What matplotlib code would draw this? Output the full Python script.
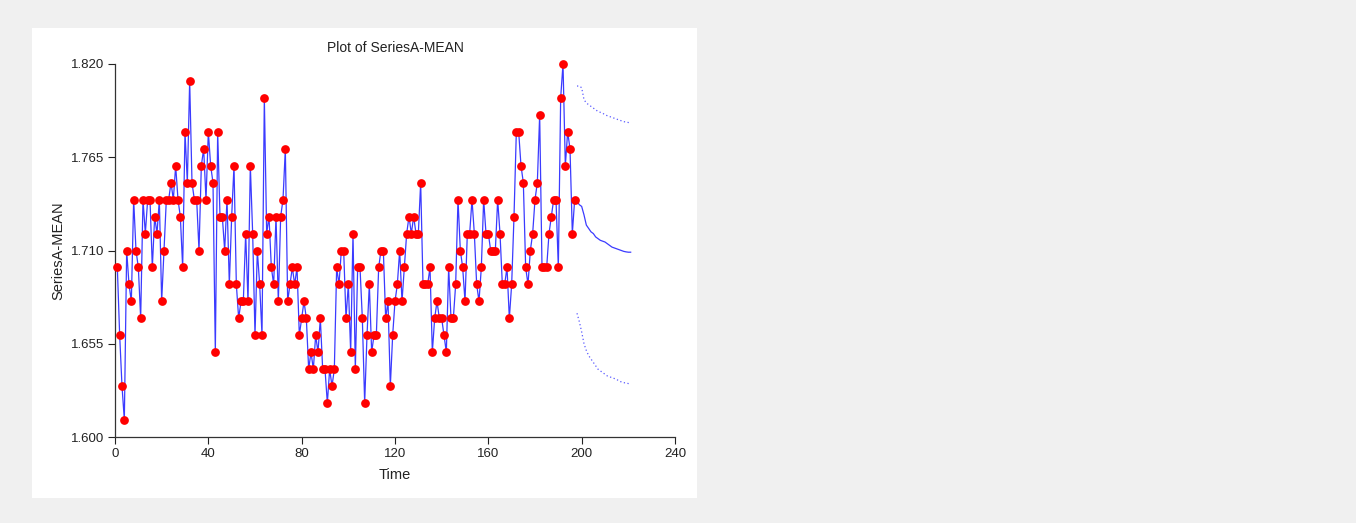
import matplotlib
matplotlib.use("Agg")
import matplotlib.pyplot as plt
from matplotlib.patches import Rectangle

plt.rcParams['font.family'] = ['Liberation Sans', 'DejaVu Sans']

# observed series, t = 1..197
series_a = [
    1.70, 1.66, 1.63, 1.61, 1.71, 1.69, 1.68, 1.74, 1.71, 1.70,
    1.67, 1.74, 1.72, 1.74, 1.74, 1.70, 1.73, 1.72, 1.74, 1.68,
    1.71, 1.74, 1.74, 1.75, 1.74, 1.76, 1.74, 1.73, 1.70, 1.78,
    1.75, 1.81, 1.75, 1.74, 1.74, 1.71, 1.76, 1.77, 1.74, 1.78,
    1.76, 1.75, 1.65, 1.78, 1.73, 1.73, 1.71, 1.74, 1.69, 1.73,
    1.76, 1.69, 1.67, 1.68, 1.68, 1.72, 1.68, 1.76, 1.72, 1.66,
    1.71, 1.69, 1.66, 1.80, 1.72, 1.73, 1.70, 1.69, 1.73, 1.68,
    1.73, 1.74, 1.77, 1.68, 1.69, 1.70, 1.69, 1.70, 1.66, 1.67,
    1.68, 1.67, 1.64, 1.65, 1.64, 1.66, 1.65, 1.67, 1.64, 1.64,
    1.62, 1.64, 1.63, 1.64, 1.70, 1.69, 1.71, 1.71, 1.67, 1.69,
    1.65, 1.72, 1.64, 1.70, 1.70, 1.67, 1.62, 1.66, 1.69, 1.65,
    1.66, 1.66, 1.70, 1.71, 1.71, 1.67, 1.68, 1.63, 1.66, 1.68,
    1.69, 1.71, 1.68, 1.70, 1.72, 1.73, 1.72, 1.73, 1.72, 1.72,
    1.75, 1.69, 1.69, 1.69, 1.70, 1.65, 1.67, 1.68, 1.67, 1.67,
    1.66, 1.65, 1.70, 1.67, 1.67, 1.69, 1.74, 1.71, 1.70, 1.68,
    1.72, 1.72, 1.74, 1.72, 1.69, 1.68, 1.70, 1.74, 1.72, 1.72,
    1.71, 1.71, 1.71, 1.74, 1.72, 1.69, 1.69, 1.70, 1.67, 1.69,
    1.73, 1.78, 1.78, 1.76, 1.75, 1.70, 1.69, 1.71, 1.72, 1.74,
    1.75, 1.79, 1.70, 1.70, 1.70, 1.72, 1.73, 1.74, 1.74, 1.70,
    1.80, 1.82, 1.76, 1.78, 1.77, 1.72, 1.74,
]
time = list(range(1, len(series_a) + 1))

# forecasts, t = 198..221
fc_time = list(range(198, 222))
forecast = [1.739, 1.737, 1.736, 1.731, 1.725, 1.723, 1.721, 1.720,
            1.718, 1.717, 1.716, 1.7155, 1.715, 1.714, 1.713, 1.712,
            1.7115, 1.711, 1.7105, 1.710, 1.7095, 1.7092, 1.709, 1.709]
upper = [1.807, 1.807, 1.806, 1.799, 1.797, 1.796, 1.795, 1.794,
         1.793, 1.792, 1.7915, 1.791, 1.790, 1.7895, 1.789, 1.7885,
         1.788, 1.7875, 1.787, 1.7865, 1.786, 1.7858, 1.7855, 1.785]
lower = [1.673, 1.668, 1.662, 1.655, 1.651, 1.648, 1.646, 1.644,
         1.642, 1.640, 1.639, 1.638, 1.637, 1.636, 1.6355, 1.635,
         1.6345, 1.634, 1.633, 1.6325, 1.632, 1.632, 1.6315, 1.631]

fig = plt.figure(figsize=(13.56, 5.23), dpi=100, facecolor='#f0f0f0')
fig.patches.append(Rectangle((32 / 1356, 1 - 498 / 523), 665 / 1356, 470 / 523,
                             transform=fig.transFigure, facecolor='white',
                             edgecolor='none', zorder=-10))

ax = fig.add_axes([115 / 1356, 1 - 437 / 523, 560 / 1356, 373 / 523])
ax.set_facecolor('none')

line_col = '#3b3bff'
ax.plot(time, series_a, color=line_col, lw=0.9, zorder=2, clip_on=False)
ax.plot(time, series_a, 'o', color='#ff0000', ms=6.3, mec='none',
        zorder=3, clip_on=False)
ax.plot([time[-1]] + fc_time, [series_a[-1]] + forecast, color=line_col,
        lw=0.9, zorder=2)
ax.plot(fc_time, upper, color='#5a5aff', lw=0.9, ls=(0, (1, 2)), zorder=2)
ax.plot(fc_time, lower, color='#5a5aff', lw=0.9, ls=(0, (1, 2)), zorder=2)

ax.set_xlim(0, 240)
ax.set_ylim(1.600, 1.820)
ax.set_xticks([0, 40, 80, 120, 160, 200, 240])
yt = [1.600, 1.655, 1.710, 1.765, 1.820]
ax.set_yticks(yt)
ax.set_yticklabels([f"{v:.3f}" for v in yt])
ax.tick_params(direction='out', length=5, width=0.8, labelsize=9.5,
               colors='#222222', pad=3)

for s in ['top', 'right']:
    ax.spines[s].set_visible(False)
for s in ['left', 'bottom']:
    ax.spines[s].set_color('#333333')
    ax.spines[s].set_linewidth(0.9)

ax.set_title("Plot of SeriesA-MEAN", fontsize=10, color='#222222', pad=9)
ax.set_xlabel("Time", fontsize=10.5, color='#222222', labelpad=6)
ax.set_ylabel("SeriesA-MEAN", fontsize=10.5, color='#222222', labelpad=4)

fig.savefig("out.png", dpi=100, facecolor=fig.get_facecolor())
